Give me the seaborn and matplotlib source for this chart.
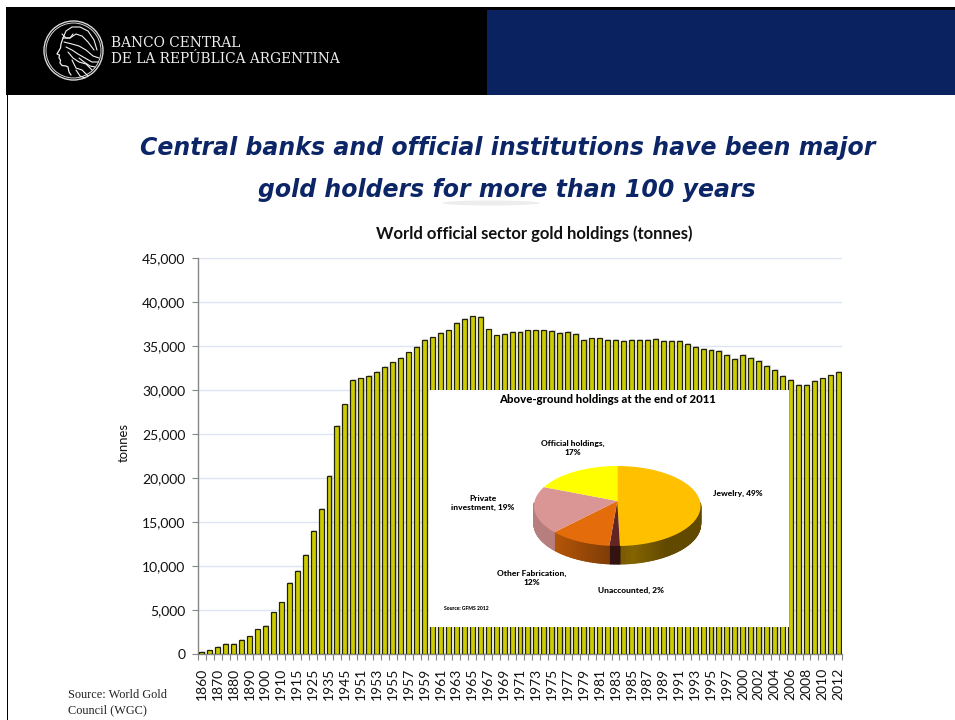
import numpy as np
import pandas as pd
import matplotlib
matplotlib.use("Agg")
import matplotlib.pyplot as plt
import seaborn as sns
from matplotlib.collections import PolyCollection
from matplotlib.patches import Circle, Ellipse, Rectangle
from matplotlib.path import Path
from matplotlib.patheffects import SimplePatchShadow, Normal

# Official sector holdings, tonnes
periods = ["1860", "1865", "1870", "1875", "1880", "1885", "1890", "1895", "1900", "1905",
           "1910", "1912", "1915", "1920", "1925", "1930", "1935", "1940", "1945", "1950"] + \
          [str(y) for y in range(1951, 1998)] + ["1999"] + [str(y) for y in range(2000, 2013)]
holdings = [200, 400, 760, 1130, 1130, 1580, 2000, 2800, 3150, 4730,
            5870, 8100, 9400, 11300, 13950, 16440, 20190, 25900, 28370, 31140,
            31320, 31590, 32080, 32610, 33140, 33640, 34280, 34850, 35680, 35980,
            36440, 36780, 37610, 38060, 38370, 38260, 36890, 36210, 36330, 36590,
            36590, 36780, 36780, 36780, 36670, 36440, 36560, 36330, 35680, 35870,
            35870, 35680, 35680, 35600, 35680, 35680, 35680, 35760, 35600, 35600,
            35600, 35230, 34850, 34660, 34545, 34470, 33940, 33490, 33940, 33640,
            33260, 32690, 32240, 31590, 31140, 30570, 30570, 31060, 31320, 31660, 32080]

# Above-ground stock shares at the end of 2011, percent
share_names = ["Jewelry", "Unaccounted", "Other Fabrication", "Private investment", "Official holdings"]
share_values = [49, 2, 12, 19, 17]
share_colors = ["#FFC000", "#632523", "#E46C0A", "#D99694", "#FFFF00"]

W, H = 955, 720
NAVY = "#0A2360"
TITLE_NAVY = "#0B2566"
BODY = "Lato"

sns.set_theme(style="white")
plt.rcParams["font.family"] = [BODY, "DejaVu Sans"]

fig = plt.figure(figsize=(W / 100, H / 100), dpi=100, facecolor="white")


def box(x0, y0, x1, y1):
    """Axes rectangle from page pixel edges (y measured from the top)."""
    return [x0 / W, 1 - y1 / H, (x1 - x0) / W, (y1 - y0) / H]


# Slide furniture: header band, crest, headline, source note
page = fig.add_axes([0, 0, 1, 1], zorder=0)
page.set_xlim(0, W)
page.set_ylim(H, 0)
page.axis("off")
page.add_patch(Rectangle((6, 7), W - 6, 88, fc="black", ec="none"))
page.add_patch(Rectangle((487, 10), W - 487, 85, fc=NAVY, ec="none"))
page.add_patch(Rectangle((6.5, 95), 1.5, H - 95, fc="black", ec="none"))
page.add_patch(Ellipse((491, 203), 98, 5, fc="#ededed", ec="none"))

page.add_patch(Circle((73.5, 50.5), 29.5, fc="none", ec="#d8d8d8", lw=1.0))
page.add_patch(Circle((73.5, 50.5), 27.5, fc="none", ec="#d8d8d8", lw=0.7))
profile_x = [63, 61, 60.5, 57, 59.5, 59, 60.5, 60, 62, 66, 68, 69, 71]
profile_y = [38, 44, 48, 54, 55, 58, 60, 63, 65.5, 66, 67, 72, 75]
page.plot(profile_x, profile_y, color="#eeeeee", lw=0.9)
hair = [([63, 66, 72, 80, 88, 94, 97], [38, 31, 27, 27, 31, 40, 50]),
        ([63, 70, 76, 82, 88, 94], [38, 38, 34, 36, 42, 50]),
        ([64, 72, 79, 86, 93, 99], [42, 44, 46, 50, 56, 58]),
        ([66, 72, 78, 85, 92, 98], [47, 50, 54, 58, 62, 62]),
        ([68, 73, 79, 86, 92], [52, 58, 62, 64, 70]),
        ([72, 76, 82, 88], [60, 68, 70, 76]),
        ([79, 84, 90, 95], [58, 62, 66, 67]),
        ([76, 80, 85], [70, 76, 78]),
        ([62, 66, 70, 73], [34, 38, 38, 34])]
for hx, hy in hair:
    page.plot(hx, hy, color="#f2f2f2", lw=0.8)

page.text(111, 43, "BANCO CENTRAL", family="DejaVu Serif", fontsize=9.9, color="#eeeeee", va="center")
page.text(111, 59, "DE LA REPÚBLICA ARGENTINA", family="DejaVu Serif", fontsize=9.9, color="#eeeeee", va="center")

page.text(507.5, 147.5, "Central banks and official institutions have been major", family="DejaVu Sans",
          fontsize=17, fontweight="bold", fontstyle="italic", color=TITLE_NAVY, ha="center", va="center")
page.text(507, 189.5, "gold holders for more than 100 years", family="DejaVu Sans",
          fontsize=17, fontweight="bold", fontstyle="italic", color=TITLE_NAVY, ha="center", va="center")
page.text(68, 695, "Source: World Gold", family="Liberation Serif", fontsize=8.8, color="#222222", va="center")
page.text(68, 710, "Council (WGC)", family="Liberation Serif", fontsize=8.8, color="#222222", va="center")

# Main bar chart
ax = fig.add_axes(box(197.7, 258, 842.3, 654), zorder=1, facecolor="none")
frame = pd.DataFrame({"period": periods, "tonnes": holdings})
sns.barplot(data=frame, x="period", y="tonnes", order=periods, color="#CCCC00", saturation=1,
            width=0.62, edgecolor="#22220a", linewidth=0.9, ax=ax, zorder=3)
for bar in ax.patches:
    bar.set_path_effects([SimplePatchShadow(offset=(1.0, 0.6), shadow_rgbFace="#888888", alpha=0.3), Normal()])

ax.set_xlim(-0.5, len(periods) - 0.5)
ax.set_ylim(0, 45000)
ax.set_yticks(np.arange(0, 45001, 5000))
ax.set_yticklabels([f"{v:,}" for v in range(0, 45001, 5000)], fontsize=10, color="#111111")
ax.set_xticks(np.arange(0, len(periods), 2))
ax.set_xticklabels(periods[::2], rotation=90, fontsize=10, color="#111111")
ax.set_xticks(np.arange(len(periods) + 1) - 0.5, minor=True)
ax.tick_params(axis="x", which="major", length=0, pad=10)
ax.tick_params(axis="x", which="minor", length=4, width=0.8, color="#868686", bottom=True)
ax.tick_params(axis="y", length=4, width=0.8, color="#868686", left=True, pad=5)
ax.set_xlabel("")
ax.set_ylabel("tonnes", fontsize=9.4, color="#111111", labelpad=9, y=0.533)
ax.yaxis.grid(True, color="#DDE4F2", lw=1.0, zorder=0)
ax.set_axisbelow(True)
for side in ("top", "right"):
    ax.spines[side].set_visible(False)
for side in ("left", "bottom"):
    ax.spines[side].set_color("#868686")
    ax.spines[side].set_linewidth(1.0)
page.text(534, 234, "World official sector gold holdings (tonnes)", family=BODY, fontsize=12,
          fontweight="bold", color="#111111", ha="center", va="center")

# Pasted pie panel, drawn in page pixels relative to the rim ellipse centre
pie_ax = fig.add_axes(box(429, 390, 789, 627), zorder=2, facecolor="white")
for spine in pie_ax.spines.values():
    spine.set_visible(False)

CX, CY, RX, RY, RISE, DEPTH = 617.3, 506.0, 83.3, 40.0, 5.0, 18.0


def warp(xy):
    """Tilt a unit pie into the panel: flattened, with the apex lifted towards the back."""
    r = np.hypot(xy[:, 0], xy[:, 1])
    return np.column_stack([CX + RX * xy[:, 0], CY - RY * xy[:, 1] - RISE * (1 - np.clip(r, 0, 1))])


def wall_shade(i, theta):
    """Brightness along the outer wall, with clock angle theta in degrees."""
    s = np.sin(np.radians(theta))
    if i == 0:
        return 0.38 + 0.14 * np.clip(1 - abs(s - 0.18) * 2.5, 0, 1)
    if i == 2:
        return 0.52 - 0.36 * s
    return {1: 0.5, 3: 0.84, 4: 0.6}[i]


# Outer wall of the front half, as thin strips coloured per slice
fractions = np.array(share_values, dtype=float) / sum(share_values)
edges = np.concatenate([[0], np.cumsum(fractions)]) * 360
for i, color in enumerate(share_colors):
    thetas = np.linspace(edges[i], edges[i + 1], int(edges[i + 1] - edges[i]) + 2)
    quads, faces = [], []
    for a, b in zip(thetas[:-1], thetas[1:]):
        if np.cos(np.radians((a + b) / 2)) > 0.08:
            continue
        ra, rb = np.radians([a, b])
        xa, xb = CX + RX * np.sin(ra), CX + RX * np.sin(rb)
        ya, yb = CY - RY * np.cos(ra), CY - RY * np.cos(rb)
        quads.append([(xa, ya), (xb, yb), (xb, yb + DEPTH), (xa, ya + DEPTH)])
        faces.append(np.array(matplotlib.colors.to_rgb(color)) * wall_shade(i, (a + b) / 2))
    if quads:
        pie_ax.add_collection(PolyCollection(quads, facecolors=faces, edgecolors=faces, linewidths=0.8, zorder=2))

# Top face comes from the library's pie, then gets tilted
wedges, _ = pie_ax.pie(share_values, colors=share_colors, startangle=90, counterclock=False,
                       radius=1, center=(0, 0), frame=True, wedgeprops={"linewidth": 0})
pie_ax.set_aspect("auto")
pie_ax.set_xlim(429, 789)
pie_ax.set_ylim(627, 390)
pie_ax.set_xticks([])
pie_ax.set_yticks([])
for w in wedges:
    p = w.get_path()
    w._path = Path(warp(p.vertices), p.codes)
    w.set_zorder(3)

label_font = {"family": BODY, "fontweight": 900, "color": "black", "ha": "center", "va": "center"}
pie_ax.text(607.5, 400, "Above-ground holdings at the end of 2011", fontsize=8.2, **label_font)
pie_ax.text(573, 448, "Official holdings,\n17%", fontsize=6.0, linespacing=1.4, **label_font)
pie_ax.text(738, 493, "Jewelry, 49%", fontsize=6.0, **label_font)
pie_ax.text(483, 503, "Private\ninvestment, 19%", fontsize=6.0, linespacing=1.4, **label_font)
pie_ax.text(532, 578, "Other Fabrication,\n12%", fontsize=6.0, linespacing=1.4, **label_font)
pie_ax.text(631, 590, "Unaccounted, 2%", fontsize=6.0, **label_font)
pie_ax.text(466, 609, "Source: GFMS 2012", fontsize=3.6, **label_font)

fig.savefig("out.png", dpi=100, facecolor="white")
